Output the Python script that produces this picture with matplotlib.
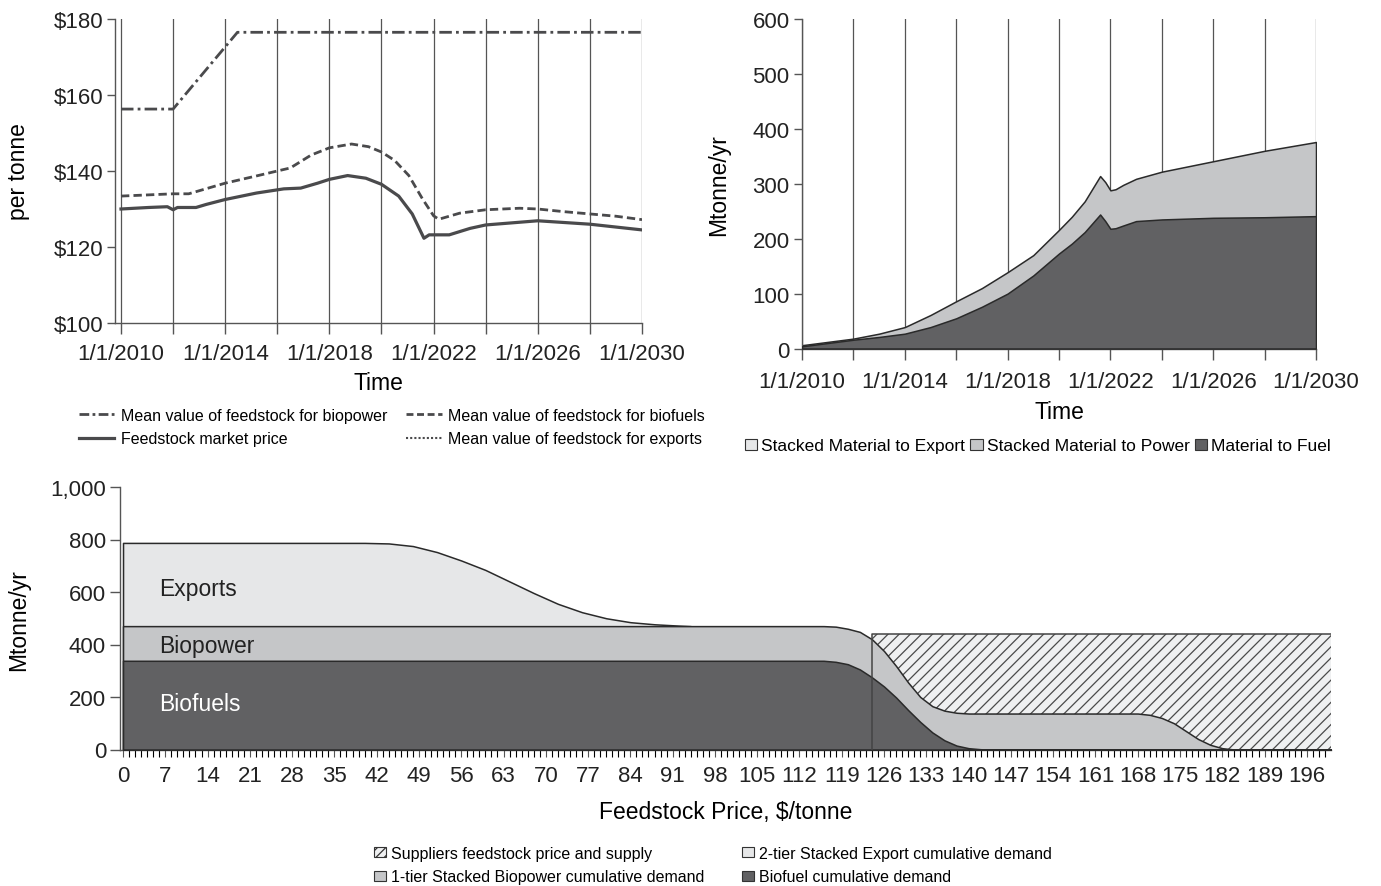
import numpy as np
import matplotlib
matplotlib.use("Agg")
import matplotlib.pyplot as plt

plt.rcParams['font.family'] = ['Liberation Sans', 'DejaVu Sans']
plt.rcParams['hatch.linewidth'] = 0.9

# ---- data: top left (price per tonne) ----
biopower_t = [2010, 2012, 2014.47, 2030]
biopower_val = [156.3, 156.3, 176.5, 176.5]

biofuel_t = [2010, 2012, 2012.6, 2014, 2015.2, 2016, 2016.5, 2017.3, 2018, 2018.85,
             2019.5, 2020, 2020.5, 2021.05, 2021.57, 2022, 2022.2, 2023, 2024,
             2025.3, 2026, 2027, 2028, 2029, 2030]
biofuel_val = [133.4, 134.0, 134.0, 136.8, 138.7, 140.0, 140.8, 144.2, 146.1, 147.1,
               146.4, 145.0, 142.8, 138.8, 132.7, 128.2, 127.3, 128.9, 129.8,
               130.2, 130.0, 129.3, 128.7, 128.1, 127.2]

market_t = [2010, 2011.06, 2011.78, 2012, 2012.17, 2012.88, 2013.27, 2014, 2015.2,
            2016.25, 2016.9, 2017.55, 2018, 2018.7, 2019.4, 2020, 2020.66, 2021.18,
            2021.63, 2021.83, 2022.6, 2023.4, 2024, 2026, 2028, 2030]
market_val = [130.0, 130.4, 130.6, 129.8, 130.4, 130.4, 131.2, 132.5, 134.2,
              135.3, 135.5, 136.8, 137.8, 138.8, 138.1, 136.5, 133.4, 128.7,
              122.3, 123.2, 123.2, 124.9, 125.8, 126.9, 126.0, 124.5]

# ---- data: top right (Mtonne/yr) ----
flow_t = [2010, 2012, 2013, 2014, 2015, 2016, 2017, 2018, 2019, 2020, 2020.5, 2021,
          2021.6, 2021.8, 2022, 2022.2, 2022.5, 2023, 2024, 2026, 2028, 2030]
total_val = [6, 18, 27, 39, 61, 86, 110, 139, 170, 216, 240, 268,
             314, 303, 288, 290, 298, 309, 322, 341, 360, 376]
fuel_val = [4, 16, 21, 27, 39, 55, 76, 100, 133, 173, 191, 212,
            244, 232, 218, 219, 224, 232, 235, 238, 239, 241]

year_ticks = list(range(2010, 2031, 2))
year_labels = [f"1/1/{y}" if (y - 2010) % 4 == 0 else "" for y in year_ticks]

# ---- data: bottom (cumulative demand vs price) ----
export_p = [0, 40, 44, 48, 52, 56, 60, 64, 68, 72, 76, 80, 84, 88, 92, 94]
export_q = [787, 787, 785, 775, 752, 720, 684, 640, 596, 555, 523, 500, 485, 477, 472, 470]

power_p = [0, 116, 118, 120, 122, 124, 126, 128, 130, 132, 134, 136, 138, 140,
           168, 170, 172, 174, 176, 178, 180, 182, 184, 200]
power_q = [470, 470, 468, 460, 448, 420, 375, 318, 255, 200, 165, 148, 140, 137,
           137, 132, 120, 100, 70, 40, 18, 5, 0, 0]

fuel_p = [0, 116, 118, 120, 122, 124, 126, 128, 130, 132, 134, 136, 138, 140, 142, 144, 200]
fuel_q = [338, 338, 334, 325, 305, 275, 240, 198, 150, 105, 65, 35, 15, 5, 1, 0, 0]

supply_p = [124, 200]
supply_q = [440, 440]

price_ticks = list(range(0, 197, 7))

dark = '#616163'
mid = '#c5c6c8'
light = '#e6e7e8'
hatch_bg = '#eff0f1'
line_c = '#4a4a4c'
axis_c = '#555555'
TICK = 16
LAB = 16.5
LEG = 11.5

fig = plt.figure(figsize=(13.81, 8.87), dpi=100)
W, H = 1381, 887


def px_axes(l, r, top, bottom):
    return fig.add_axes([l / W, 1 - bottom / H, (r - l) / W, (bottom - top) / H])


def style(ax):
    for s in ['top', 'right']:
        ax.spines[s].set_visible(False)
    for s in ['left', 'bottom']:
        ax.spines[s].set_color(axis_c)
        ax.spines[s].set_linewidth(1.0)
    ax.tick_params(colors='#222222', labelsize=TICK, color=axis_c, width=1.0)


# ---- top left ----
ax1 = px_axes(115, 642, 20, 324)
style(ax1)
for y in year_ticks:
    ax1.axvline(y, color=axis_c, lw=0.9, zorder=0)
ax1.plot(biopower_t, biopower_val, color=line_c, lw=2.0, ls=(0, (4.5, 1.5, 1, 1.5)))
ax1.plot(biofuel_t, biofuel_val, color=line_c, lw=2.0, ls=(0, (3, 1.5)))
ax1.plot(market_t, market_val, color=line_c, lw=2.3)
ax1.set_xlim(2009.77, 2030)
ax1.set_ylim(100, 180)
ax1.set_yticks([100, 120, 140, 160, 180])
ax1.set_yticklabels(['$100', '$120', '$140', '$160', '$180'])
ax1.set_xticks(year_ticks)
ax1.set_xticklabels(year_labels)
ax1.tick_params(axis='x', length=8, pad=6.5)
ax1.tick_params(axis='y', length=6, pad=2)
ax1.set_ylabel('per tonne', fontsize=LAB)
ax1.yaxis.set_label_coords(-0.161, 0.5)
ax1.set_xlabel('Time', fontsize=LAB)
ax1.xaxis.set_label_coords(0.5, -0.158)

h1 = [plt.Line2D([], [], color=line_c, lw=2.0, ls=(0, (3.5, 1.2, 1, 1.2))),
      plt.Line2D([], [], color=line_c, lw=2.3),
      plt.Line2D([], [], color=line_c, lw=2.0, ls=(0, (2.5, 1.3))),
      plt.Line2D([], [], color=line_c, lw=1.5, ls=(0, (1, 1)))]
l1 = ['Mean value of feedstock for biopower', 'Feedstock market price',
      'Mean value of feedstock for biofuels', 'Mean value of feedstock for exports']
fig.legend(h1, l1, loc='center', bbox_to_anchor=(392 / W, 1 - 428 / H), ncol=2,
           frameon=False, fontsize=LEG, handlelength=2.2, handletextpad=0.4,
           columnspacing=1.2, labelspacing=0.55)

# ---- top right ----
ax2 = px_axes(802, 1316, 20, 349.5)
style(ax2)
for y in year_ticks:
    ax2.axvline(y, color=axis_c, lw=0.9, zorder=0)
ax2.fill_between(flow_t, 0, total_val, facecolor=mid, edgecolor='#2a2a2a', lw=1.1, zorder=2)
ax2.fill_between(flow_t, 0, fuel_val, facecolor=dark, edgecolor='#2a2a2a', lw=1.1, zorder=3)
ax2.set_xlim(2010, 2030)
ax2.set_ylim(0, 600)
ax2.set_yticks(range(0, 601, 100))
ax2.set_xticks(year_ticks)
ax2.set_xticklabels(year_labels)
ax2.tick_params(axis='x', length=8, pad=8.5)
ax2.tick_params(axis='y', length=6, pad=3)
ax2.set_ylabel('Mtonne/yr', fontsize=LAB)
ax2.yaxis.set_label_coords(-0.140, 0.5)
ax2.set_xlabel('Time', fontsize=LAB)
ax2.xaxis.set_label_coords(0.5, -0.155)

sq = dict(edgecolor='#333333', lw=0.8)
h2 = [plt.Rectangle((0, 0), 1, 1, facecolor=light, **sq),
      plt.Rectangle((0, 0), 1, 1, facecolor=mid, **sq),
      plt.Rectangle((0, 0), 1, 1, facecolor=dark, **sq)]
l2 = ['Stacked Material to Export', 'Stacked Material to Power', 'Material to Fuel']
fig.legend(h2, l2, loc='center', bbox_to_anchor=(1038 / W, 1 - 447 / H), ncol=3,
           frameon=False, fontsize=12.5, handlelength=0.7, handleheight=0.55,
           handletextpad=0.25, columnspacing=0.3)

# ---- bottom ----
ax3 = px_axes(120, 1331, 488, 750.5)
style(ax3)
ax3.fill_between(supply_p, 0, supply_q, facecolor=hatch_bg, edgecolor='#4a4a4a',
                 hatch='///', lw=0, zorder=1)
ax3.fill_between(export_p, 0, export_q, facecolor=light, edgecolor='#2a2a2a', lw=1.1, zorder=2)
ax3.fill_between(power_p, 0, power_q, facecolor=mid, edgecolor='#2a2a2a', lw=1.1, zorder=3)
ax3.fill_between(fuel_p, 0, fuel_q, facecolor=dark, edgecolor='#2a2a2a', lw=1.1, zorder=4)
# supplier step outline drawn over the demand areas
ax3.plot([supply_p[0]] + supply_p, [0] + supply_q, color='#444444', lw=1.1, zorder=5)
ax3.set_xlim(-0.5, 200)
ax3.set_ylim(0, 1000)
ax3.set_yticks(range(0, 1001, 200))
ax3.set_yticklabels([f"{v:,}" for v in range(0, 1001, 200)])
ax3.set_xticks(price_ticks)
ax3.set_xticks(range(0, 200), minor=True)
ax3.tick_params(axis='x', which='both', length=5, width=0.8, pad=6.5)
ax3.tick_params(axis='y', length=7, pad=3)
ax3.set_ylabel('Mtonne/yr', fontsize=LAB)
ax3.yaxis.set_label_coords(-0.074, 0.497)
ax3.set_xlabel('Feedstock Price, $/tonne', fontsize=LAB)
ax3.xaxis.set_label_coords(0.5, -0.194)

ax3.text(6, 612, 'Exports', fontsize=LAB, color='#222222', va='center', zorder=6)
ax3.text(6, 396, 'Biopower', fontsize=LAB, color='#222222', va='center', zorder=6)
ax3.text(6, 176, 'Biofuels', fontsize=LAB, color='white', va='center', zorder=6)

h3 = [plt.Rectangle((0, 0), 1, 1, facecolor=hatch_bg, hatch='////', **sq),
      plt.Rectangle((0, 0), 1, 1, facecolor=mid, **sq),
      plt.Rectangle((0, 0), 1, 1, facecolor=light, **sq),
      plt.Rectangle((0, 0), 1, 1, facecolor=dark, **sq)]
l3 = ['Suppliers feedstock price and supply', '1-tier Stacked Biopower cumulative demand',
      '2-tier Stacked Export cumulative demand', 'Biofuel cumulative demand']
fig.legend(h3, l3, loc='center', bbox_to_anchor=(713 / W, 1 - 866 / H), ncol=2,
           frameon=False, fontsize=LEG, handlelength=0.75, handleheight=0.6,
           handletextpad=0.3, columnspacing=2.4, labelspacing=0.55)

fig.savefig('out.png', dpi=100)
